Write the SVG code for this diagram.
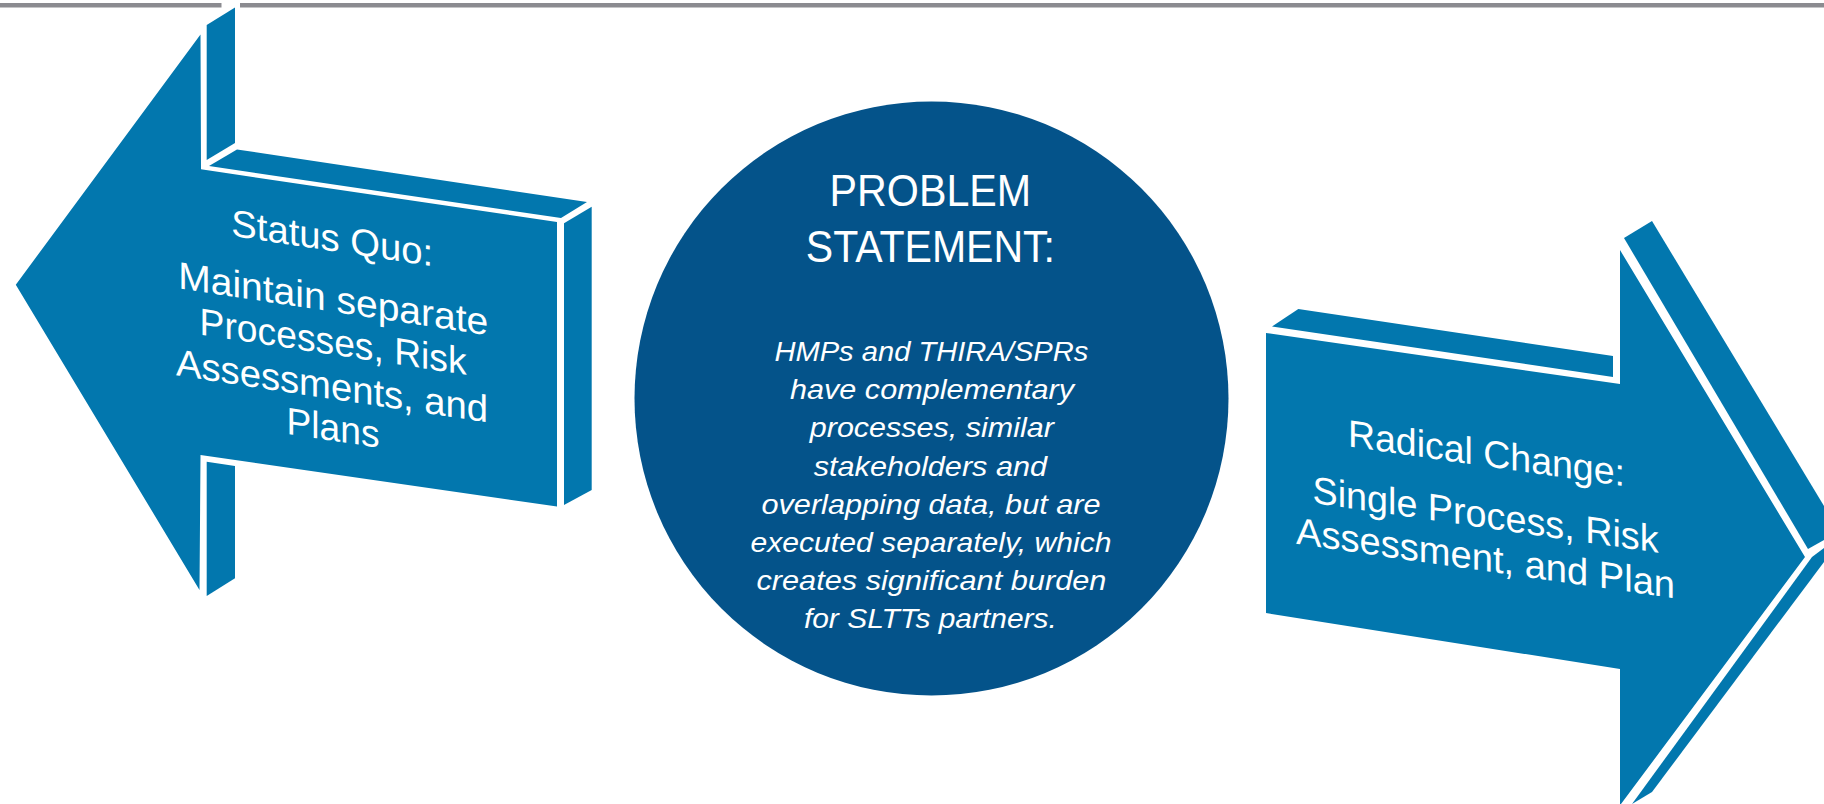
<svg xmlns="http://www.w3.org/2000/svg" width="1824" height="804" viewBox="0 0 1824 804">
<style>
.face{fill:#0277ae}
.side{fill:#0277ae}
.lbl{font-family:"Liberation Sans",Arial,sans-serif;fill:#ffffff;text-anchor:middle}
.arr{font-size:38px}
.title{font-size:45px}
.body{font-size:28px;font-style:italic}
</style>
<rect x="0" y="0" width="1824" height="804" fill="#ffffff"/>
<g id="top-rule">
<rect x="0" y="3" width="1824" height="4.5" fill="#8b8b90"/>
<rect x="221.5" y="2" width="18.5" height="6.5" fill="#ffffff"/>
</g>
<g id="connectors"></g>
<g id="status-quo">
<polygon class="side" points="206.7,25 235,7.5 235,143 206.7,160"/>
<polygon class="side" points="209,166 237,149.5 587,202 561,218"/>
<polygon class="side" points="564,223.3 591.7,206.7 591.7,490 564,505"/>
<polygon class="side" points="206.7,461.7 235,466 235,578.3 206.7,596"/>
<polygon class="face" points="15.8,284.7 200.5,34.5 201,169.3 557,222 557,506.5 200.5,455 199.5,590"/>
<text class="lbl arr" transform="translate(332.2,251) skewY(8.6)" x="0" y="0" font-size="37" textLength="201.7" lengthAdjust="spacingAndGlyphs">Status Quo:</text>
<text class="lbl arr" transform="translate(333.2,311.8) skewY(8.6)" x="0" y="0" textLength="310" lengthAdjust="spacingAndGlyphs">Maintain separate</text>
<text class="lbl arr" transform="translate(333.1,354.6) skewY(8.6)" x="0" y="0" textLength="267" lengthAdjust="spacingAndGlyphs">Processes, Risk</text>
<text class="lbl arr" transform="translate(332,398.9) skewY(8.6)" x="0" y="0" textLength="312" lengthAdjust="spacingAndGlyphs">Assessments, and</text>
<text class="lbl arr" transform="translate(333,440.7) skewY(8.6)" x="0" y="0" textLength="93" lengthAdjust="spacingAndGlyphs">Plans</text>
</g>
<g id="problem-statement">
<circle cx="931.5" cy="398.5" r="297" fill="#04538a"/>
<text class="lbl title" x="930.4" y="206" textLength="201.6" lengthAdjust="spacingAndGlyphs">PROBLEM</text>
<text class="lbl title" x="930.4" y="262" textLength="249.2" lengthAdjust="spacingAndGlyphs">STATEMENT:</text>
<text class="lbl body" x="931.4" y="361" textLength="314" lengthAdjust="spacingAndGlyphs">HMPs and THIRA/SPRs</text>
<text class="lbl body" x="932" y="399.2" textLength="284" lengthAdjust="spacingAndGlyphs">have complementary</text>
<text class="lbl body" x="931.8" y="437.4" textLength="244" lengthAdjust="spacingAndGlyphs">processes, similar</text>
<text class="lbl body" x="930.4" y="475.6" textLength="233.3" lengthAdjust="spacingAndGlyphs">stakeholders and</text>
<text class="lbl body" x="931" y="513.8" textLength="339" lengthAdjust="spacingAndGlyphs">overlapping data, but are</text>
<text class="lbl body" x="931" y="552" textLength="361" lengthAdjust="spacingAndGlyphs">executed separately, which</text>
<text class="lbl body" x="931.4" y="590.2" textLength="350" lengthAdjust="spacingAndGlyphs">creates significant burden</text>
<text class="lbl body" x="930.4" y="628.4" textLength="253" lengthAdjust="spacingAndGlyphs">for SLTTs partners.</text>
</g>
<g id="radical-change">
<polygon class="side" points="1272,326.5 1298.3,309 1613,356 1613,377"/>
<polygon class="side" points="1624,238 1652,221 1824,506 1824,540 1808,549"/>
<polygon class="side" points="1812,557 1824,548 1824,562 1652,792 1632,804"/>
<polygon class="face" points="1266,333 1620,384 1620,250 1805,557 1621,804 1620,804 1620,669 1266,613"/>
<text class="lbl arr" transform="translate(1486.4,466.3) skewY(8.2)" x="0" y="0" font-size="39" textLength="277" lengthAdjust="spacingAndGlyphs">Radical Change:</text>
<text class="lbl arr" transform="translate(1485.5,527.8) skewY(8.2)" x="0" y="0" font-size="39" textLength="346" lengthAdjust="spacingAndGlyphs">Single Process, Risk</text>
<text class="lbl arr" transform="translate(1485.5,571) skewY(8.2)" x="0" y="0" font-size="39" textLength="379" lengthAdjust="spacingAndGlyphs">Assessment, and Plan</text>
</g>
</svg>
